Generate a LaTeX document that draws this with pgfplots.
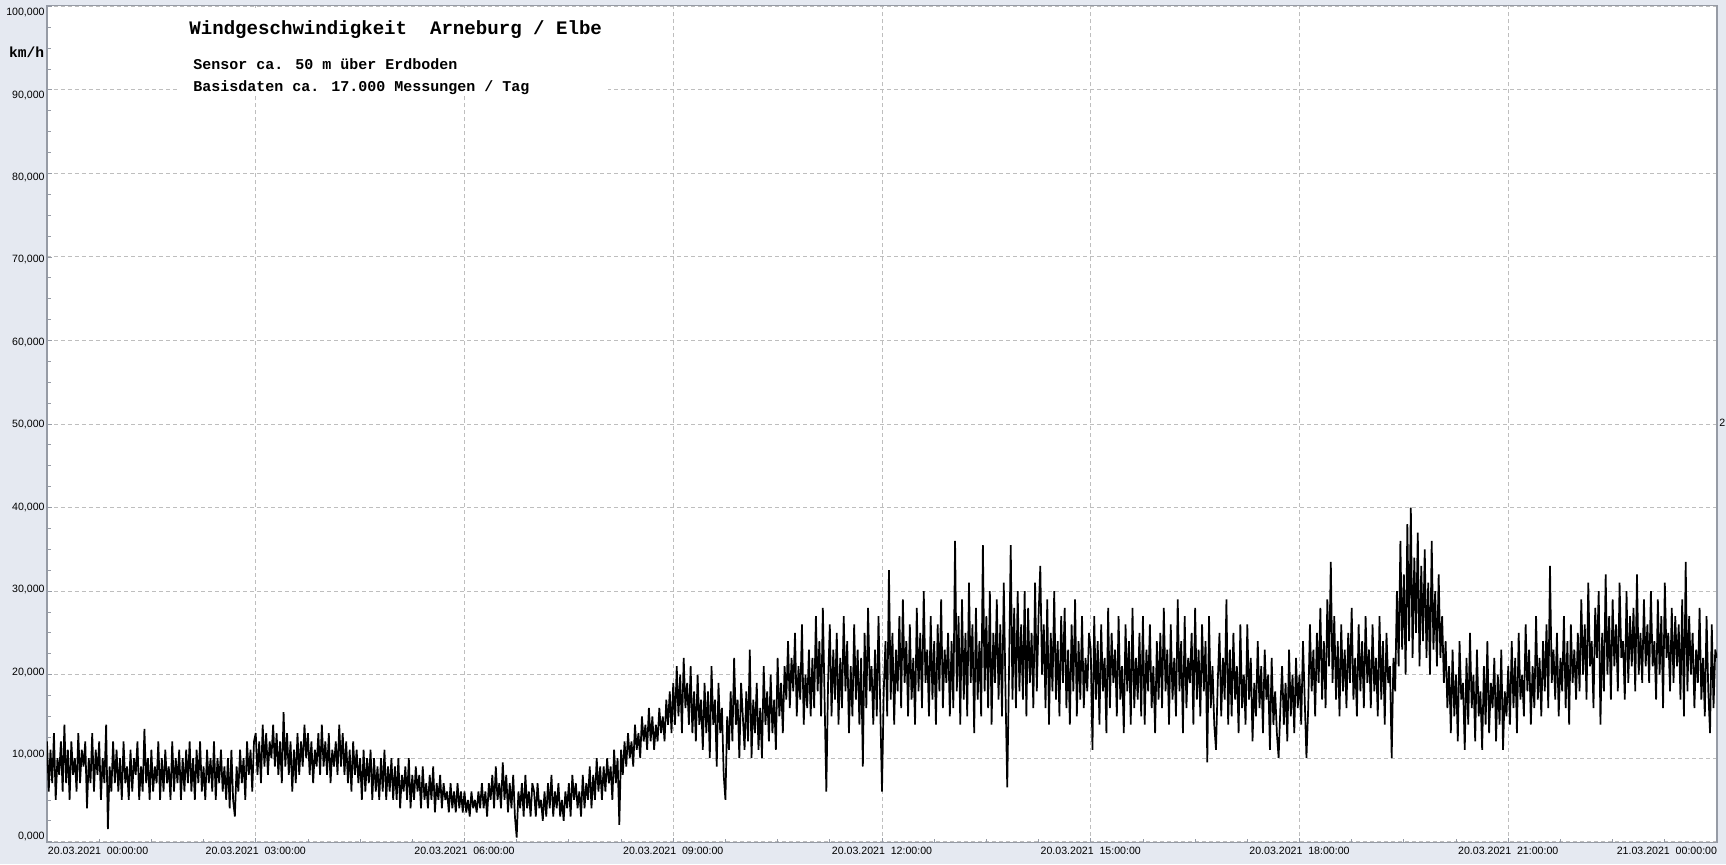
\documentclass[border=0pt]{standalone}
\usepackage{fontspec}
\setmainfont{Liberation Sans}
\newfontfamily\mono{Liberation Mono}
\usepackage{pgfplots}
\pgfplotsset{compat=1.18}
\usepackage{pgfplotstable}
\definecolor{bgc}{RGB}{229,233,241}
\definecolor{framec}{RGB}{150,155,165}
\definecolor{gridc}{RGB}{190,190,190}
\newcommand\yl[2]{\smash{\raisebox{#2}{#1}}}
% wind speed, one sample every 1.5 min (40 per hour), 00:00 .. 24:00
\pgfplotstableread[header=false,row sep=\\]{
12\\6\\11\\7\\13\\5\\10\\8\\12\\6\\14\\7\\11\\5\\12\\8\\10\\6\\13\\7\\11\\9\\12\\4\\10\\7\\13\\6\\11\\8\\12\\5\\10\\7\\14\\1.5\\9\\6\\12\\7\\
11\\6\\10\\5\\12\\7\\9\\5\\11\\6\\10\\8\\12\\5\\9\\6\\13.5\\7\\10\\5\\11\\6\\9\\7\\12\\5\\10\\6\\11\\7\\9\\5\\12\\6\\10\\7\\11\\5\\10\\6\\
11\\7\\12\\6\\10\\5\\11\\7\\12\\6\\9\\5\\11\\7\\10\\6\\12\\5\\10\\7\\11\\6\\9\\5\\10\\4\\11\\5\\3\\9\\6\\11\\7\\10\\5\\12\\8\\11\\6\\12\\
13\\8\\12\\7\\14\\9\\13\\8\\12\\10\\14\\9\\13\\8\\12\\7\\15.5\\9\\13\\8\\12\\6\\11\\7\\13\\8\\12\\9\\14\\10\\13\\8\\12\\7\\11\\9\\13\\8\\14\\9\\
12\\8\\13\\7\\11\\9\\12\\8\\14\\9\\13\\8\\12\\7\\11\\6\\12\\8\\11\\7\\10\\5\\11\\6\\10\\7\\11\\5\\10\\6\\9\\5\\10\\6\\11\\5\\9\\6\\10\\5\\
9\\5\\10\\4\\8\\6\\9\\5\\10\\4\\8\\5\\9\\6\\8\\4\\9\\5\\7\\4\\8\\5\\9\\3.5\\7\\5\\8\\4\\7\\5\\6\\3.5\\7\\4\\6\\3.5\\7\\4\\6\\3.5\\
6\\3.5\\5\\3\\6\\4\\5\\3.5\\6\\4\\7\\4\\6\\3\\7\\5\\8\\4\\9\\5\\7\\4\\9.5\\5\\8\\3.5\\7\\4\\8\\3\\0.5\\6\\4\\7\\3\\8\\4\\6\\3\\7\\
6\\3\\7\\4\\5\\2.5\\6\\3\\7\\4\\8\\3\\6\\4\\7\\3\\5\\2.5\\6\\4\\7\\3\\8\\5\\7\\4\\6\\3\\8\\4\\7\\5\\9\\4\\8\\5\\10\\6\\9\\5\\
9\\6\\10\\7\\9\\5\\11\\7\\10\\2\\11\\8\\12\\9\\13\\10\\12\\9\\14\\11\\13\\10\\15\\12\\14\\11\\16\\12\\15\\11\\14\\12\\16\\13\\15\\12\\17\\14\\18\\13\\
19\\14\\21\\15\\20\\13\\22\\16\\19\\14\\21\\13\\18\\12\\20\\14\\17\\11\\19\\13\\18\\10\\21\\14\\17\\9\\19\\13\\16\\8\\5\\15\\11\\18\\12\\22\\14\\17\\10\\19\\
15\\11\\18\\12\\23\\10\\17\\13\\19\\11\\16\\10\\21\\14\\18\\12\\20\\13\\17\\11\\22\\15\\19\\13\\21\\17\\24\\16\\22\\18\\25\\15\\21\\17\\26\\14\\20\\16\\23\\15\\
22\\16\\27\\18\\24\\15\\28\\17\\6\\19\\26\\15\\23\\17\\25\\14\\22\\16\\27\\18\\24\\13\\21\\15\\26\\17\\23\\14\\22\\9\\25\\16\\28\\18\\21\\14\\23\\15\\27\\16\\
6\\18\\24\\15\\32.5\\17\\25\\14\\23\\18\\27\\16\\29\\19\\24\\15\\26\\17\\22\\14\\28\\18\\25\\16\\30\\19\\23\\15\\27\\17\\24\\14\\26\\18\\29\\16\\23\\19\\25\\15\\
24\\16\\36\\18\\27\\14\\29\\17\\25\\15\\31\\19\\26\\13\\28\\17\\24\\15\\35.5\\18\\27\\16\\30\\14\\25\\19\\29\\17\\26\\15\\31\\18\\6.5\\20\\35.5\\17\\28\\16\\30\\18\\
26\\17\\30\\15\\28\\19\\25\\16\\31\\18\\27\\33\\20\\26\\16\\29\\14\\25\\18\\30\\17\\24\\15\\27\\19\\28\\16\\23\\14\\26\\18\\29\\15\\24\\17\\27\\16\\22\\18\\25\\
23\\11\\27\\17\\24\\14\\26\\18\\22\\13\\28\\16\\25\\19\\23\\15\\27\\17\\21\\13\\26\\18\\24\\14\\28\\16\\22\\17\\25\\15\\27\\14\\23\\18\\26\\16\\21\\13\\24\\17\\
25\\16\\28\\18\\23\\14\\26\\17\\22\\15\\29\\18\\24\\13\\27\\16\\22\\19\\25\\14\\28\\17\\23\\15\\26\\18\\24\\9.5\\27\\16\\21\\14\\11\\19\\25\\15\\22\\17\\29\\14\\
23\\15\\25\\17\\21\\13\\26\\16\\20\\14\\26\\17\\22\\12\\19\\15\\24\\16\\21\\13\\23\\17\\20\\11\\22\\14\\18\\13\\10\\16\\21\\14\\19\\12\\23\\15\\20\\13\\22\\16\\
20\\14\\24\\17\\10\\16\\26\\18\\23\\15\\25\\19\\28\\17\\24\\16\\29\\21\\33.5\\19\\27\\17\\24\\15\\26\\18\\23\\16\\25\\19\\28\\17\\22\\15\\26\\18\\24\\16\\27\\19\\
23\\16\\26\\18\\22\\15\\27\\17\\24\\14\\25\\19\\21\\10\\22\\18\\30\\21\\36\\23\\32\\20\\38\\24\\40\\22\\34\\25\\37\\21\\33\\24\\35\\22\\31\\20\\36\\23\\30\\21\\
32\\22\\27\\19\\24\\16\\21\\13\\23\\15\\20\\12\\24\\17\\19\\11\\22\\14\\25\\16\\20\\12\\23\\15\\18\\11\\21\\14\\24\\13\\19\\16\\22\\12\\20\\14\\23\\11\\18\\15\\
21\\14\\24\\16\\22\\13\\25\\17\\20\\15\\26\\18\\23\\14\\21\\16\\27\\17\\22\\15\\24\\18\\26\\16\\33\\19\\23\\17\\25\\15\\22\\18\\27\\16\\24\\14\\26\\19\\23\\17\\
25\\18\\29\\20\\26\\17\\31\\21\\24\\16\\28\\22\\30\\14\\25\\18\\32\\20\\27\\17\\29\\21\\26\\18\\31\\22\\24\\17\\30\\19\\27\\21\\28\\18\\32\\20\\25\\19\\29\\21\\
26\\19\\30\\21\\24\\17\\29\\20\\27\\16\\31\\22\\25\\18\\28\\19\\27\\21\\26\\17\\29\\15\\33.5\\18\\27\\20\\25\\16\\23\\19\\28\\17\\22\\15\\27\\18\\13\\26\\16\\23\\
22\\
}\wind
\begin{document}
\begin{tikzpicture}
\path[use as bounding box, fill=bgc] (0,0) rectangle (863pt,432pt);
\begin{axis}[
  at={(23.5pt,10.75pt)}, anchor=south west,
  scale only axis, width=835pt, height=418.5pt,
  xmin=0, xmax=24, ymin=-0.1, ymax=100.1,
  axis background/.style={fill=white},
  axis line style={draw=framec, line width=0.6pt},
  tick pos=left, tick align=inside,
  major tick length=2.5pt, minor tick length=2pt,
  every tick/.style={draw=framec, line width=0.4pt},
  xtick={0,3,...,24}, minor x tick num=3,
  ytick={0,10,...,100}, minor y tick num=3,
  grid=major,
  major grid style={draw=gridc, dash pattern=on 2pt off 1.5pt, line width=0.5pt},
  every tick label/.append style={font=\fontsize{5.3}{6}\selectfont, text=black},
  xticklabel style={anchor=north, inner sep=0pt, yshift=-2.3pt},
  yticklabel style={anchor=east, inner sep=0pt, xshift=-1pt},
  xticklabels={\makebox[0pt][l]{\hspace{0.5pt}20.03.2021\ \ 00:00:00},
    20.03.2021\ \ 03:00:00, 20.03.2021\ \ 06:00:00, 20.03.2021\ \ 09:00:00,
    20.03.2021\ \ 12:00:00, 20.03.2021\ \ 15:00:00, 20.03.2021\ \ 18:00:00,
    20.03.2021\ \ 21:00:00, \makebox[0pt][r]{21.03.2021\ \ 00:00:00}},
  yticklabels={\yl{0,000}{0.85pt},\yl{10,000}{0.3pt},\yl{20,000}{-0.25pt},
    \yl{30,000}{-0.8pt},\yl{40,000}{-1.35pt},\yl{50,000}{-1.9pt},
    \yl{60,000}{-2.45pt},\yl{70,000}{-3pt},\yl{80,000}{-3.55pt},
    \yl{90,000}{-4.1pt},\yl{100,000}{-4.65pt}},
  clip=true,
]
\fill[white] (axis cs:1.88,89.35) rectangle (axis cs:8.06,99.85);
\addplot[black, line width=0.85pt, line join=bevel] table[x expr=\coordindex/40, y index=0] {\wind};
\end{axis}
\node[anchor=west, inner sep=0pt, font=\mono\bfseries\fontsize{9.55}{11}\selectfont] at (94.5pt,417.4pt) {Windgeschwindigkeit\ \ Arneburg / Elbe};
\node[anchor=west, inner sep=0pt, font=\mono\bfseries\fontsize{7.5}{9}\selectfont] at (96.5pt,400pt) {Sensor ca. 50 m über Erdboden};
\node[anchor=west, inner sep=0pt, font=\mono\bfseries\fontsize{7.5}{9}\selectfont] at (96.5pt,388.4pt) {Basisdaten ca. 17.000 Messungen / Tag};
\node[anchor=west, inner sep=0pt, font=\mono\bfseries\fontsize{7.3}{9}\selectfont] at (4.4pt,406pt) {km/h};
\node[anchor=west, inner sep=0pt, font=\fontsize{5.3}{6}\selectfont] at (859.5pt,220.5pt) {2};
\end{tikzpicture}
\end{document}
